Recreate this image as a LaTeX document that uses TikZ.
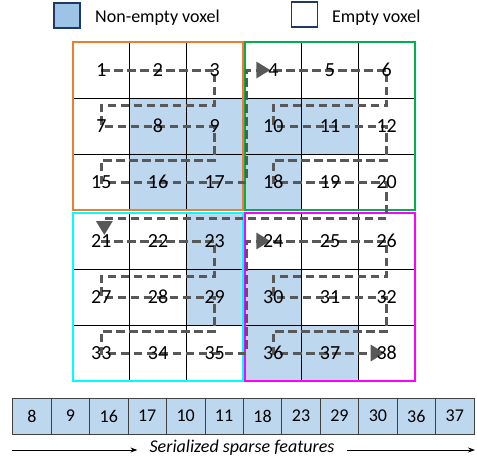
\documentclass[tikz,border=0pt]{standalone}
\usepackage{fontspec}
\setmainfont{Carlito}
\usetikzlibrary{arrows.meta,calc}
\definecolor{cellblue}{RGB}{189,215,238}
\definecolor{legblue}{RGB}{157,195,230}
\definecolor{legborder}{RGB}{31,56,100}
\definecolor{stripborder}{RGB}{64,64,64}
\definecolor{fOrange}{RGB}{237,125,49}
\definecolor{fGreen}{RGB}{0,176,80}
\definecolor{fCyan}{RGB}{0,255,255}
\definecolor{fMag}{RGB}{255,0,255}
\definecolor{pathgray}{RGB}{88,88,88}
\tikzset{
 cellbox/.style={draw=black, line width=0.7pt, minimum width=56.67pt, minimum height=56pt, inner sep=0pt, outer sep=0pt},
 lab/.style={font=\fontsize{20}{20}\selectfont, inner sep=0pt, text=black},
 blockframe/.style={line width=2.6pt},
 pathd/.style={draw=pathgray, line width=3pt, dash pattern=on 8.5pt off 4.5pt},
 bigtip/.style={-{Triangle[length=14pt,width=16pt]}},
 legbox/.style={draw=legborder, line width=1.5pt, minimum width=26pt, minimum height=25pt, inner sep=0pt},
 legtext/.style={font=\fontsize{18}{18}\selectfont, inner sep=0pt, anchor=base west},
 stripbox/.style={draw=stripborder, fill=cellblue, line width=0.8pt, minimum width=38.44pt, minimum height=36pt, inner sep=0pt, font=\fontsize{18}{18}\selectfont},
 arr/.style={line width=0.9pt, -{Stealth[length=7pt,width=5pt]}}
}
\begin{document}
\begin{tikzpicture}[x=1pt,y=-1pt]
\useasboundingbox (0,0) rectangle (477,461);
% legend
\node[legbox, fill=legblue] (lg1) at (67,15.3) {};
\node[legtext] (lg1t) at (95,22) {Non-empty voxel};
\node[legbox, fill=white] (lg2) at (304.5,14.5) {};
\node[legtext] (lg2t) at (332,22) {Empty voxel};
% cells
\foreach \lab [count=\i from 0] in {1,...,12,15,16,...,38} {
  \pgfmathtruncatemacro\cc{mod(\i,6)}
  \pgfmathtruncatemacro\rr{int(\i/6)}
  \pgfmathsetmacro\xx{\cc<3 ? 73+56.667*(\cc+0.5) : 245+56.667*(\cc-2.5)}
  \pgfmathsetmacro\yy{\rr<3 ? 42+56*(\rr+0.5) : 213+56*(\rr-2.5)}
  \pgfmathtruncatemacro\isblue{(\lab==8)||(\lab==9)||(\lab==10)||(\lab==11)||(\lab==16)||(\lab==17)||(\lab==18)||(\lab==23)||(\lab==29)||(\lab==30)||(\lab==36)||(\lab==37)}
  \ifnum\isblue=1 \def\fc{cellblue}\else\def\fc{white}\fi
  \node[cellbox, fill=\fc] (c\lab) at (\xx,\yy) {};
}
% block frames
\draw[blockframe, fOrange] (c1.north west) rectangle (c17.south east);
\draw[blockframe, fGreen] (c4.north west) rectangle (c20.south east);
\draw[blockframe, fCyan] (c21.north west) rectangle (c35.south east);
\draw[blockframe, fMag] (c24.north west) rectangle (c38.south east);
% label anchors
\foreach \lab in {1,...,12,15,16,...,38} \node[lab] (t\lab) at (c\lab) {\phantom{\lab}};
\coordinate (j1) at ($(c17.east)!0.5!(c18.west)+(2.5,0)$);
\coordinate (j2) at ($(c35.east)!0.5!(c36.west)+(2.5,0)$);
% serpentine paths
\draw[pathd, bigtip] (t1.center) -- (t3.center) -- ++(0,35) -| (t7.center) -- (t9.center) -- ++(0,34) -| (t15.center) -- (t17.center) -- (j1 |- t17.center) -- (j1 |- t4.center) -- ([xshift=-3pt]t4.center);
\draw[pathd, bigtip] (t4.center) -- (t6.center) -- ++(0,35) -| (t10.center) -- (t12.center) -- ++(0,34) -| (t18.center) -- (t20.center) -- ++(0,36) -| ([xshift=3pt,yshift=6pt]t21.center);
\draw[pathd, bigtip] (t21.center) -- (t23.center) -- ++(0,35) -| (t27.center) -- (t29.center) -- ++(0,34) -| (t33.center) -- (t35.center) -- (j2 |- t35.center) -- (j2 |- t24.center) -- ([xshift=-3pt]t24.center);
\draw[pathd, bigtip] (t24.center) -- (t26.center) -- ++(0,35) -| (t30.center) -- (t32.center) -- ++(0,34) -| (t36.center) -- ([xshift=-2pt]t38.center);
% labels on top
\foreach \lab in {1,...,12,15,16,...,38} \node[lab] (v\lab) at (c\lab) {\lab};
% strip
\foreach \v [count=\k] in {8,9,16,17,10,11,18,23,29,30,36,37}
  \node[stripbox] (s\k) at ({12.7+38.44*(\k-0.5)},416) {\v};
% serialized arrow
\coordinate (a0) at (12,450);
\coordinate (a1) at (475,450);
\node[font=\fontsize{18}{18}\selectfont\itshape, inner ysep=0pt, inner xsep=12pt, anchor=mid] (ser) at (242,450) {Serialized sparse features};
\draw[arr] (a0) -- (ser.mid west);
\draw[arr] (ser.mid east) -- (a1);
\end{tikzpicture}
\end{document}
